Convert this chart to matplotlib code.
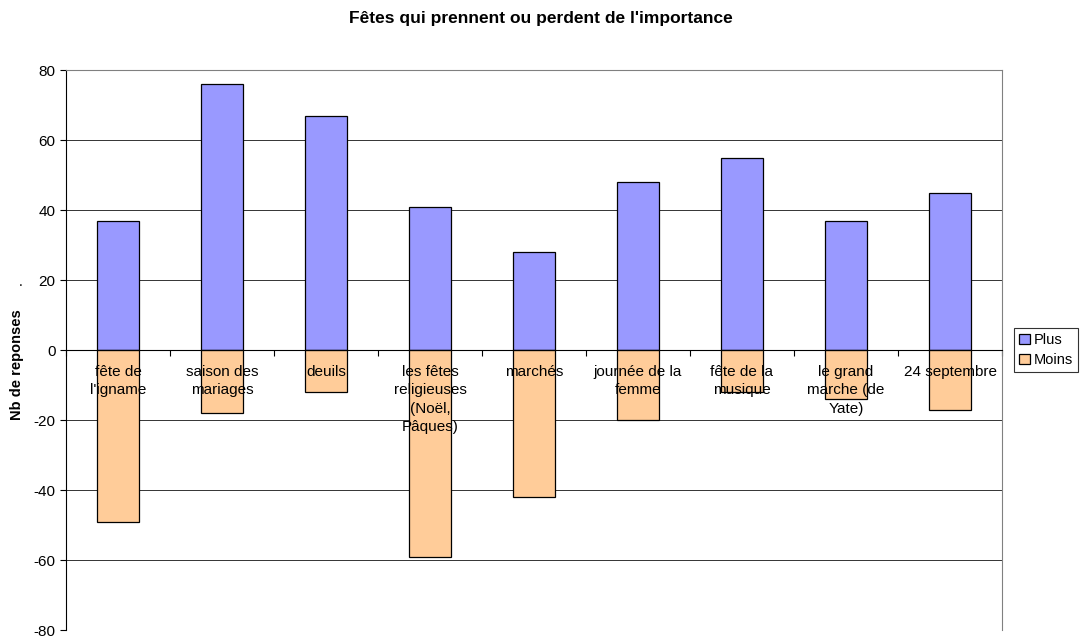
import matplotlib.pyplot as plt
import numpy as np

plt.rcParams['font.family'] = ['Liberation Sans', 'DejaVu Sans']
plt.rcParams['axes.unicode_minus'] = False

categories = ["fête de\nl'igname", "saison des\nmariages", "deuils",
              "les fêtes\nreligieuses\n(Noël,\nPâques)", "marchés",
              "journée de la\nfemme", "fête de la\nmusique",
              "le grand\nmarche (de\nYate)", "24 septembre"]
plus = [37, 76, 67, 41, 28, 48, 55, 37, 45]
moins = [-49, -18, -12, -59, -42, -20, -12, -14, -17]

fig = plt.figure(figsize=(10.8, 6.39), dpi=100)
ax = fig.add_axes([66 / 1080, 1 - 630 / 639, 936 / 1080, 560 / 639])

x = np.arange(len(categories))
ax.bar(x, plus, width=0.4, color='#9999FF', edgecolor='black', linewidth=0.9, label='Plus', zorder=3)
ax.bar(x, moins, width=0.4, color='#FFCC99', edgecolor='black', linewidth=0.9, label='Moins', zorder=3)

ax.set_xlim(-0.5, len(categories) - 0.5)
ax.set_ylim(-80, 80)
ax.set_yticks(range(-80, 81, 20))
ax.tick_params(axis='y', labelsize=11, length=4, width=0.8, direction='out', pad=3.5)
ax.yaxis.grid(True, color='#333333', linewidth=0.7, zorder=0)

ax.set_xticks([])
ax.set_xticks(np.arange(-0.5, len(categories), 1), minor=True)
ax.tick_params(axis='x', which='minor', length=4, width=0.8, direction='out')
ax.spines['bottom'].set_position(('data', 0))
ax.spines['bottom'].set_zorder(4)
for s in ['top', 'right']:
    ax.spines[s].set_color('#808080')
    ax.spines[s].set_linewidth(0.8)

for i, lab in enumerate(categories):
    ax.annotate(lab, xy=(i, 0), xytext=(0, -10.5), textcoords='offset points',
                ha='center', va='top', fontsize=11, linespacing=1.42, zorder=5)

ax.set_ylabel('Nb de reponses', fontsize=10.5, fontweight='bold')
ax.yaxis.set_label_coords(-0.0445, 0.473)
fig.text(21 / 1080, 1 - 282 / 639, '.', fontsize=10, ha='center', va='center')

fig.text(541 / 1080, 1 - 18 / 639, "Fêtes qui prennent ou perdent de l'importance",
         ha='center', va='center', fontsize=12.5, fontweight='bold')

leg = fig.legend(loc='upper left', bbox_to_anchor=(1014 / 1080, 1 - 328 / 639), fontsize=10.5,
                 frameon=True, fancybox=False, edgecolor='black', handlelength=0.75,
                 handleheight=0.75, handletextpad=0.25, borderpad=0.35, labelspacing=0.4,
                 borderaxespad=0)
leg.get_frame().set_linewidth(0.8)

fig.savefig('out.png', dpi=100)
